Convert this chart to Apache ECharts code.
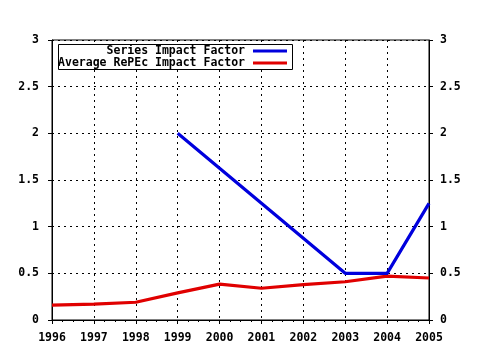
<!DOCTYPE html>
<html><head><meta charset="utf-8">
<script src="https://cdn.jsdelivr.net/npm/echarts@6/dist/echarts.min.js"></script>
<style>html,body{margin:0;padding:0;background:#fff}#c{width:480px;height:350px}</style>
</head><body><div id="c"></div>
<script>
var years = [1996, 1997, 1998, 1999, 2000, 2001, 2002, 2003, 2004, 2005];
var seriesImpact = [null, null, null, 2.0, null, null, null, 0.5, 0.5, 1.25];
var avgRepec = [0.16, 0.17, 0.19, 0.29, 0.385, 0.34, 0.38, 0.41, 0.47, 0.45];
var seriesNames = ['Series Impact Factor', 'Average RePEc Impact Factor'];
var colors = ['#0000dd', '#e00000'];

var FONT = 'DejaVu Sans Mono';
function pairs(vals){ return years.map(function(y,i){ return [y, vals[i]]; }); }
var chart = echarts.init(document.getElementById('c'));
var labelStyle = {fontFamily: FONT, fontWeight: 'bold', fontSize: 11.5, color: '#000'};
var gridLine = {show: true, lineStyle: {color: '#000', type: [2, 4], width: 1}};
chart.setOption({
  animation: false,
  backgroundColor: '#fff',
  grid: {left: 52, right: 51, top: 40, bottom: 30, show: true, borderColor: '#000', borderWidth: 1},
  xAxis: [{
    type: 'value', min: 1996, max: 2005, interval: 1, position: 'bottom',
    axisLine: {show: true, onZero: false, lineStyle: {color: '#000', width: 1}},
    axisTick: {show: true, length: 4, lineStyle: {color: '#000'}},
    minorTick: {show: true, splitNumber: 4, length: 2, lineStyle: {color: '#000'}},
    axisLabel: Object.assign({margin: 12, formatter: function(v){ return String(v); }}, labelStyle),
    splitLine: gridLine
  }, {
    type: 'value', min: 1996, max: 2005, interval: 1, position: 'top',
    axisLine: {show: true, lineStyle: {color: '#000'}},
    axisTick: {show: true, inside: true, length: 3, lineStyle: {color: '#000'}},
    minorTick: {show: true, splitNumber: 4, length: 2, lineStyle: {color: '#000'}},
    axisLabel: {show: false}, splitLine: {show: false}
  }],
  yAxis: [{
    type: 'value', min: 0, max: 3, interval: 0.5, position: 'left',
    axisLine: {show: true, onZero: false, lineStyle: {color: '#000'}},
    axisTick: {show: true, length: 4, lineStyle: {color: '#000'}},
    axisLabel: Object.assign({margin: 13, padding: [3, 0, 0, 0]}, labelStyle),
    splitLine: gridLine
  }, {
    type: 'value', min: 0, max: 3, interval: 0.5, position: 'right',
    axisLine: {show: true, lineStyle: {color: '#000'}},
    axisTick: {show: true, length: 4, lineStyle: {color: '#000'}},
    axisLabel: Object.assign({margin: 11, padding: [3, 0, 0, 0]}, labelStyle),
    splitLine: {show: false}
  }],
  series: [{
    name: seriesNames[0], type: 'line', data: pairs(seriesImpact), connectNulls: true,
    showSymbol: false, symbol: 'none', lineStyle: {color: colors[0], width: 3.2}, z: 3
  }, {
    name: seriesNames[1], type: 'line', data: pairs(avgRepec),
    showSymbol: false, symbol: 'none', lineStyle: {color: colors[1], width: 3.2}, z: 2
  }],
  graphic: [
    {type: 'rect', shape: {x: 58.5, y: 44.5, width: 234, height: 25}, style: {fill: '#fff', stroke: '#000', lineWidth: 1}, z: 10},
    {type: 'text', x: 245, y: 51, style: {text: seriesNames[0], align: 'right', verticalAlign: 'middle', font: 'bold 11.5px "DejaVu Sans Mono"', fill: '#000'}, z: 11},
    {type: 'text', x: 245, y: 63, style: {text: seriesNames[1], align: 'right', verticalAlign: 'middle', font: 'bold 11.5px "DejaVu Sans Mono"', fill: '#000'}, z: 11},
    {type: 'line', shape: {x1: 253, y1: 51, x2: 287, y2: 51}, style: {stroke: colors[0], lineWidth: 3}, z: 11},
    {type: 'line', shape: {x1: 253, y1: 63, x2: 287, y2: 63}, style: {stroke: colors[1], lineWidth: 3}, z: 11}
  ]
});
</script></body></html>
